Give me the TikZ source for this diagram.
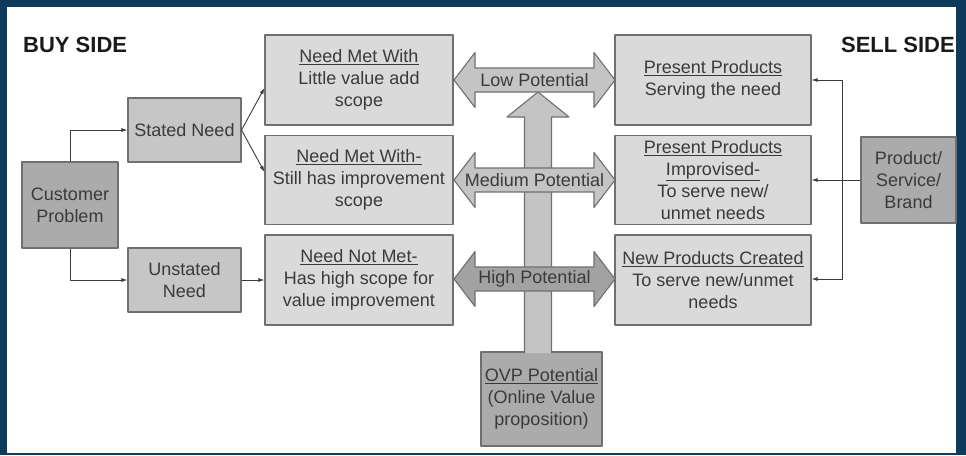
\documentclass[tikz,border=0pt]{standalone}
\usepackage{fontspec}
\setmainfont{Liberation Sans}
\usetikzlibrary{arrows.meta}
\definecolor{navy}{HTML}{0E3A5C}
\definecolor{boxfill}{HTML}{DADADA}
\definecolor{needfill}{HTML}{C6C6C6}
\definecolor{darkfill}{HTML}{ABABAB}
\definecolor{arrowfill}{HTML}{C4C4C4}
\definecolor{highfill}{HTML}{A2A2A2}
\definecolor{edge}{HTML}{707070}
\definecolor{ink}{HTML}{3A3A3A}
\definecolor{title}{HTML}{1A1A1A}

\begin{document}
\begin{tikzpicture}[x=1pt,y=-1pt,line join=round,
  box/.style={draw=edge,line width=1.1pt,fill=boxfill,text=ink,align=center,
    inner sep=0pt,font=\fontsize{18}{22}\selectfont},
  conn/.style={draw=ink,line width=0.9pt,-{Latex[length=6pt,width=4pt]}},
  fat/.style={draw=edge,line width=1.1pt},
  side/.style={text=title,font=\fontsize{22}{26}\bfseries\selectfont,inner sep=0pt}]
  \fill[navy] (0,0) rectangle (966,455);
  \fill[white] (7,7) rectangle (956,453);
  \useasboundingbox (0,0) rectangle (966,455);
  \node[side,anchor=west] (buy) at (23,45) {BUY SIDE};
  \node[side,anchor=east] (sell) at (955,45) {SELL SIDE};
  % OVP box and the upward arrow
  \node[box,fill=darkfill,minimum width=121pt,minimum height=94pt] (ovp) at (541.5,399)
    {\underline{OVP Potential}\\(Online Value\\proposition)};
  \filldraw[fat,fill=arrowfill] (524.5,353) -- (524.5,117) -- (507,117) -- (538,92)
    -- (569,117) -- (551.5,117) -- (551.5,353);
  % buy side
  \node[box,fill=darkfill,minimum width=96pt,minimum height=86pt] (cp) at (70,205) {Customer\\Problem};
  \node[box,fill=needfill,minimum width=113pt,minimum height=64pt] (stated) at (184.5,130) {Stated Need};
  \node[box,fill=needfill,minimum width=113pt,minimum height=64pt] (unstated) at (184.5,280) {Unstated\\Need};
  \node[box,minimum width=188pt,minimum height=90pt] (metlittle) at (359,80)
    {\underline{Need Met With}\\Little value add\\scope};
  \node[box,minimum width=188pt,minimum height=89pt] (metstill) at (359,180)
    {\underline{Need Met With-}\\Still has improvement\\scope};
  \node[box,minimum width=188pt,minimum height=90pt] (notmet) at (359,280)
    {\underline{Need Not Met-}\\Has high scope for\\value improvement};
  % sell side
  \node[box,minimum width=196pt,minimum height=90pt] (present) at (713,80)
    {\underline{Present Products}\\Serving the need};
  \node[box,minimum width=196pt,minimum height=89pt] (improv) at (713,180)
    {\underline{Present Products}\\\underline{Improvised-}\\To serve new/\\unmet needs};
  \node[box,minimum width=196pt,minimum height=90pt] (newprod) at (713,280)
    {\underline{New Products Created}\\To serve new/unmet\\needs};
  \node[box,fill=darkfill,minimum width=95pt,minimum height=86pt] (psb) at (908.5,180)
    {Product/\\Service/\\Brand};
  % potential arrows
  \foreach \yy/\nm/\lbl/\fc in {80/low/Low Potential/arrowfill,
      180/medium/Medium Potential/arrowfill,279/high/High Potential/highfill}{
    \filldraw[fat,fill=\fc] (454,\yy) -- (475,{\yy-27.5}) -- (475,{\yy-12}) -- (594,{\yy-12})
      -- (594,{\yy-27.5}) -- (615,\yy) -- (594,{\yy+27.5}) -- (594,{\yy+12})
      -- (475,{\yy+12}) -- (475,{\yy+27.5}) -- cycle;
    \node[text=ink,font=\fontsize{18}{22}\selectfont,inner sep=0pt] (\nm) at (534.5,\yy) {\lbl};
  }
  % connectors
  \draw[conn] (cp.north) |- (stated.west);
  \draw[conn] (cp.south) |- (unstated.west);
  \draw[conn] (stated.east) -- ([yshift=-8pt]metlittle.west);
  \draw[conn] (stated.east) -- ([yshift=8pt]metstill.west);
  \draw[conn] (unstated.east) -- (notmet.west);
  \coordinate (bus) at (842,180);
  \draw[conn] (psb.west) -- (improv.east);
  \draw[conn] (bus) |- (present.east);
  \draw[conn] (bus) |- ([yshift=1pt]newprod.east);
\end{tikzpicture}
\end{document}
